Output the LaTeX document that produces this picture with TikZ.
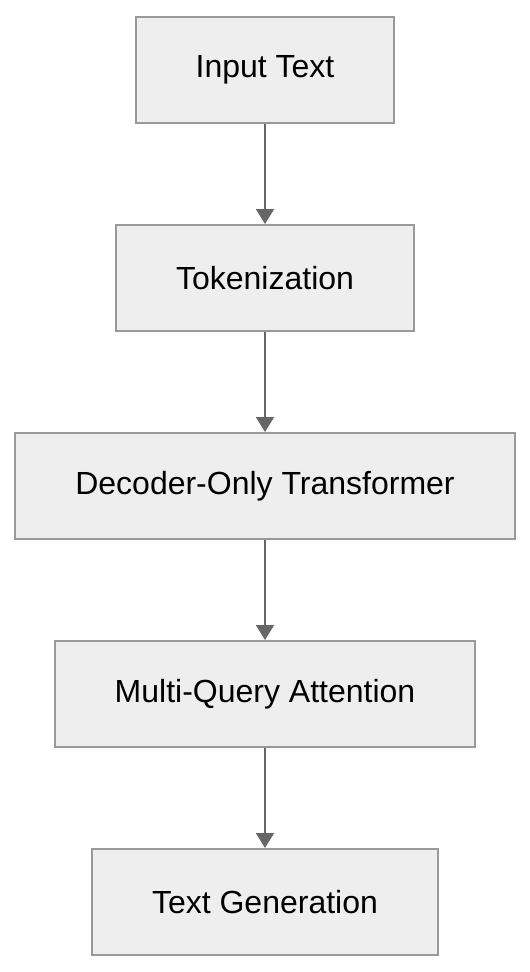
\documentclass[tikz,border=0pt]{standalone}
\usepackage{fontspec}
\setmainfont{Liberation Sans}
\usepackage{tikz}
\usetikzlibrary{positioning, arrows.meta}
\definecolor{boxfill}{HTML}{EEEEEE}
\definecolor{boxline}{HTML}{999999}
\definecolor{arrowgray}{HTML}{666666}

\begin{document}
\begin{tikzpicture}[
    stage/.style={rectangle, draw=boxline, fill=boxfill, line width=2pt, minimum height=106pt, inner xsep=60pt, font=\fontsize{32}{38}\selectfont},
    flow/.style={-{Triangle[width=18pt,length=15pt]}, draw=arrowgray, fill=arrowgray, line width=2pt}
]
\useasboundingbox (0,0) rectangle (530pt,-972pt);

% Blocchi della pipeline
\node[stage] (input) at (265pt,-70pt) {Input Text};
\node[stage, below=100pt of input] (token) {Tokenization};
\node[stage, below=100pt of token] (decoder) {Decoder-Only Transformer};
\node[stage, below=100pt of decoder] (mqa) {Multi-Query Attention};
\node[stage, below=100pt of mqa] (gen) {Text Generation};

% Frecce
\draw[flow] (input) -- (token);
\draw[flow] (token) -- (decoder);
\draw[flow] (decoder) -- (mqa);
\draw[flow] (mqa) -- (gen);

\end{tikzpicture}
\end{document}
